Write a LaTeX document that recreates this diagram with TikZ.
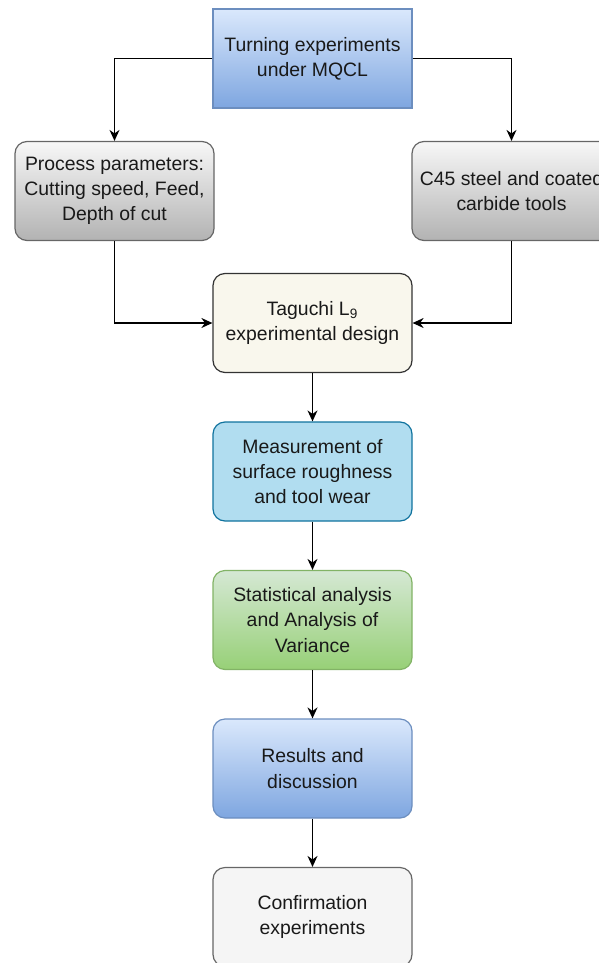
\documentclass[tikz,border=0pt]{standalone}
\usepackage{fontspec}
\setmainfont{Liberation Sans}
\usepackage{tikz}
\usetikzlibrary{arrows.meta, positioning}

\definecolor{blueline}{RGB}{108,142,191}
\definecolor{bluetop}{RGB}{218,232,252}
\definecolor{bluebot}{RGB}{126,166,224}

\begin{document}
\begin{tikzpicture}[x=0.5pt, y=-0.5pt, node distance=74.25pt,
    box/.style={draw, line width=0.6pt, minimum width=99.5pt, minimum height=49.5pt,
      inner sep=0pt, align=center, text=black!90,
      font=\fontsize{9.7pt}{12.6pt}\selectfont},
    rbox/.style={box, rounded corners=6pt},
    arr/.style={line width=0.75pt, -{Stealth[length=5.5pt, width=5pt]}}]
  \useasboundingbox (0,0) rectangle (599,963);
  \node (turning) [box, draw=blueline, top color=bluetop, bottom color=bluebot] at (312.5,58.5)
    {Turning experiments\\under MQCL};
  \node (params) [rbox, draw=black!60, top color=black!3, bottom color=black!30] at (114.5,191)
    {Process parameters:\\Cutting speed, Feed,\\Depth of cut};
  \node (tools) [rbox, draw=black!60, top color=black!3, bottom color=black!30] at (511.5,191)
    {C45 steel and coated\\carbide tools};
  \node (taguchi) [rbox, draw=black!80, fill={rgb,255:red,249;green,247;blue,237},
    below of=turning, node distance=132.25pt] {Taguchi L\textsubscript{9}\\experimental design};
  \node (measure) [rbox, draw={rgb,255:red,16;green,115;blue,158},
    fill={rgb,255:red,177;green,221;blue,240}, below of=taguchi]
    {Measurement of\\surface roughness\\and tool wear};
  \node (stats) [rbox, draw={rgb,255:red,130;green,179;blue,102},
    top color={rgb,255:red,213;green,232;blue,212}, bottom color={rgb,255:red,151;green,208;blue,119},
    below of=measure] {Statistical analysis\\and Analysis of\\Variance};
  \node (results) [rbox, draw=blueline, top color=bluetop, bottom color=bluebot,
    below of=stats] {Results and\\discussion};
  \node (confirm) [rbox, draw=black!60, fill=black!4, below of=results]
    {Confirmation\\experiments};
  \draw[arr] (turning.west) -| (params.north);
  \draw[arr] (turning.east) -| (tools.north);
  \draw[arr] (params.south) |- (taguchi.west);
  \draw[arr] (tools.south) |- (taguchi.east);
  \draw[arr] (taguchi) -- (measure);
  \draw[arr] (measure) -- (stats);
  \draw[arr] (stats) -- (results);
  \draw[arr] (results) -- (confirm);
\end{tikzpicture}
\end{document}
